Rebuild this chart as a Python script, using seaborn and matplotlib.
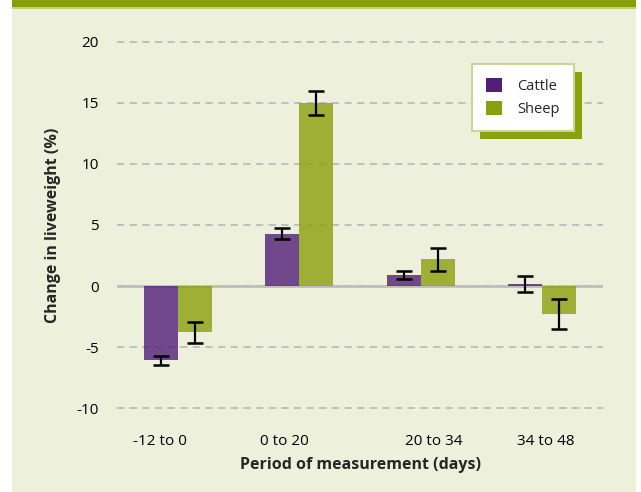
import pandas as pd
import seaborn as sns
import matplotlib.pyplot as plt
from matplotlib.patches import Patch, Rectangle

# Values
periods = ['-12 to 0', '0 to 20', '20 to 34', '34 to 48']
cattle_change = [-6.1, 4.3, 0.9, 0.15]
cattle_err = [0.4, 0.45, 0.3, 0.65]
sheep_change = [-3.8, 15.0, 2.2, -2.3]
sheep_err = [0.85, 0.95, 0.95, 1.2]
species = ['Cattle', 'Sheep']

purple = '#521e78'
green = '#89a10b'
panel_bg = '#edf0db'

df = pd.DataFrame({
    'period': periods * 2,
    'species': ['Cattle'] * len(periods) + ['Sheep'] * len(periods),
    'change': cattle_change + sheep_change,
    'err': cattle_err + sheep_err,
})

sns.set_style('white')
plt.rcParams['font.family'] = ['Open Sans', 'DejaVu Sans']
plt.rcParams['axes.unicode_minus'] = False

fig = plt.figure(figsize=(6.41, 4.92), dpi=100)
fig.patch.set_facecolor('white')
# beige panel with green band on top
fig.patches.append(Rectangle((12 / 641, 0), 624 / 641, 1, transform=fig.transFigure,
                             facecolor=panel_bg, edgecolor='none', zorder=-2))
fig.patches.append(Rectangle((12 / 641, 1 - 7 / 492), 624 / 641, 7 / 492, transform=fig.transFigure,
                             facecolor='#87a00a', edgecolor='none', zorder=-1))
fig.patches.append(Rectangle((12 / 641, 1 - 8.5 / 492), 624 / 641, 1.5 / 492, transform=fig.transFigure,
                             facecolor='#c2d07a', edgecolor='none', zorder=-1))

ax = fig.add_axes([117 / 641, 1 - 411.7 / 492, 486 / 641, 373.4 / 492])
ax.set_facecolor('none')

sns.barplot(data=df, x='period', y='change', hue='species', palette=[purple, green],
            errorbar=None, width=0.56, alpha=0.8, saturation=1, linewidth=0,
            ax=ax, zorder=3, legend=False)

# error bars on top of each bar
for cont, sp in zip(ax.containers, species):
    sub = df[df['species'] == sp]
    xs = [p.get_x() + p.get_width() / 2 for p in cont.patches]
    ax.errorbar(xs, sub['change'], yerr=sub['err'], fmt='none', ecolor='black',
                elinewidth=1.6, capsize=6, capthick=1.8, zorder=4)

ax.set_ylim(-10.3, 20.3)
ax.set_xlim(-0.5, 3.5)
ax.set_yticks(range(-10, 21, 5))
# category labels sit a little off-centre in the original layout
label_shift = [-0.15, -0.12, 0.11, 0.03]
ax.set_xticks([i + d for i, d in enumerate(label_shift)], periods)
ax.yaxis.grid(True, color='#bcbcbc', linestyle=(0, (4, 3)), linewidth=1.3, zorder=0)
ax.axhline(0, color='#bdbdbd', linewidth=2, zorder=1)
for s in ax.spines.values():
    s.set_visible(False)
ax.tick_params(axis='both', length=0, labelsize=11, colors='black')
ax.tick_params(axis='y', pad=13)
ax.tick_params(axis='x', pad=16)
ax.set_xlabel('Period of measurement (days)', fontsize=11.5, fontweight='bold', labelpad=6)
ax.set_ylabel('Change in liveweight (%)', fontsize=11.5, fontweight='bold', labelpad=11)

handles = [Patch(facecolor=purple, edgecolor='none'), Patch(facecolor=green, edgecolor='none')]
leg = ax.legend(handles, species, loc='upper right', bbox_to_anchor=(0.94, 0.932),
                borderaxespad=0, frameon=True, fancybox=False, fontsize=10.5,
                handlelength=1.1, handleheight=1.1, handletextpad=1.0,
                labelspacing=0.45, borderpad=1.0, edgecolor='#c9d59b', facecolor='white',
                framealpha=1)
leg.get_frame().set_linewidth(1.5)
leg.set_zorder(6)

# green drop shadow behind the legend box
fig.canvas.draw()
bb = leg.get_window_extent()
ax.add_patch(Rectangle((bb.x0 + 8, bb.y0 - 8), bb.width, bb.height, transform=None,
                       facecolor=green, edgecolor='none', zorder=5.5, clip_on=False))

fig.savefig('out.png', dpi=100, facecolor=fig.get_facecolor())
